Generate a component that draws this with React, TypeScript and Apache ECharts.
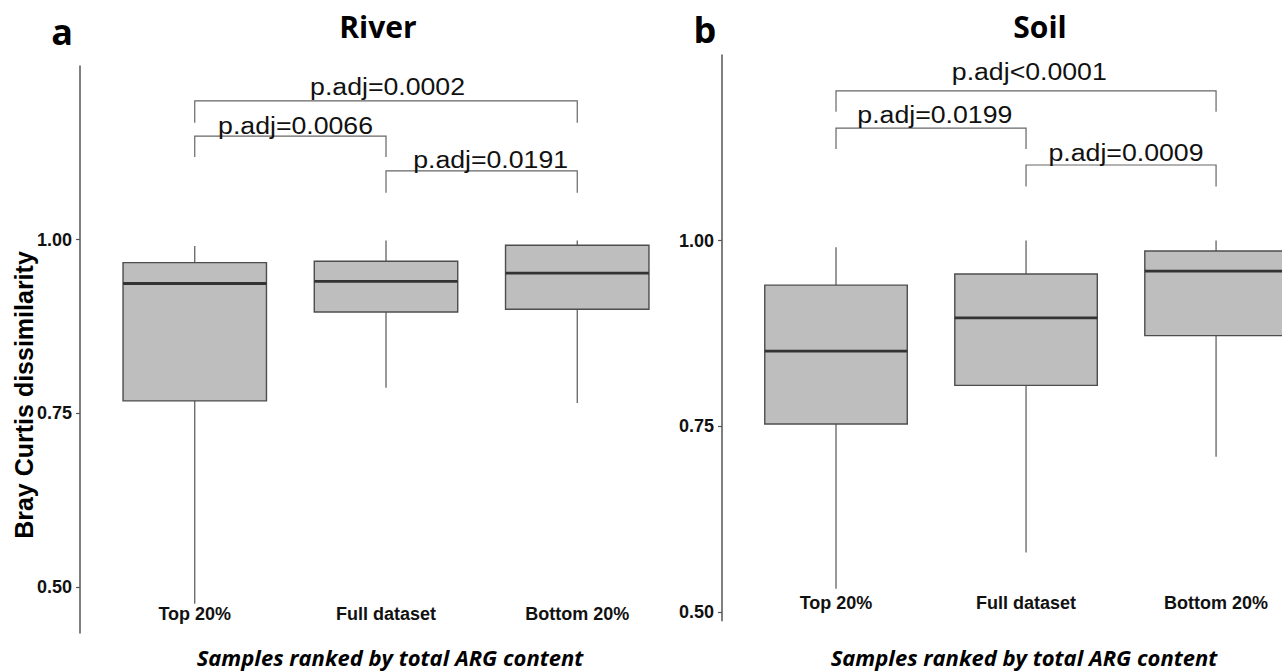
import React, { useEffect, useRef } from "react";
import * as echarts from "echarts";

// ---------- data ----------
const categories = ["Top 20%", "Full dataset", "Bottom 20%"];
const categoryPositions = [1, 2, 3];
const yTickValues = [0.5, 0.75, 1.0];

// River (panel a)
const riverLowerWhisker = [0.476, 0.787, 0.765];
const riverQ1 = [0.768, 0.896, 0.9];
const riverMedian = [0.937, 0.94, 0.952];
const riverQ3 = [0.967, 0.969, 0.992];
const riverUpperWhisker = [0.991, 0.999, 0.999];

// Soil (panel b)
const soilLowerWhisker = [0.531, 0.58, 0.709];
const soilQ1 = [0.753, 0.805, 0.872];
const soilMedian = [0.851, 0.896, 0.959];
const soilQ3 = [0.94, 0.955, 0.986];
const soilUpperWhisker = [0.991, 1.0, 1.0];

// brackets: [fromCategory, toCategory, lineY, tipY, labelX, labelBaselineY]
const riverBrackets = [
  [1, 3, 1.1997, 1.1685, 2.008, 1.2093],
  [1, 2, 1.149, 1.119, 1.527, 1.1527],
  [2, 3, 1.099, 1.0675, 2.547, 1.104],
];
const riverBracketLabels = ["p.adj=0.0002", "p.adj=0.0066", "p.adj=0.0191"];

const soilBrackets = [
  [1, 3, 1.2016, 1.1734, 2.017, 1.2166],
  [1, 2, 1.1516, 1.1234, 1.52, 1.159],
  [2, 3, 1.1018, 1.073, 2.526, 1.1076],
];
const soilBracketLabels = ["p.adj<0.0001", "p.adj=0.0199", "p.adj=0.0009"];

const riverYRange = [0.434, 1.25];
const soilYRange = [0.488, 1.25];
const riverXRange = [0.4, 3.6];
const soilXRange = [0.4, 3.347]; // the soil panel is cut off at the right edge
const BOX_WIDTH = 0.75;

// ---------- helpers ----------
function boxRows(low: number[], q1: number[], med: number[], q3: number[], high: number[]) {
  return categoryPositions.map((x, i) => [x, low[i], q1[i], med[i], q3[i], high[i]]);
}

function renderBox(params: any, api: any) {
  const x = api.value(0);
  const low = api.coord([x, api.value(1)]);
  const q1 = api.coord([x, api.value(2)]);
  const med = api.coord([x, api.value(3)]);
  const q3 = api.coord([x, api.value(4)]);
  const high = api.coord([x, api.value(5)]);
  const w = api.size([BOX_WIDTH, 0])[0];
  const cx = low[0];
  const left = cx - w / 2;
  return {
    type: "group",
    children: [
      {
        type: "line",
        shape: { x1: cx, y1: high[1], x2: cx, y2: q3[1] },
        style: { stroke: "#555555", lineWidth: 1.2 },
      },
      {
        type: "line",
        shape: { x1: cx, y1: q1[1], x2: cx, y2: low[1] },
        style: { stroke: "#555555", lineWidth: 1.2 },
      },
      {
        type: "rect",
        shape: { x: left, y: q3[1], width: w, height: q1[1] - q3[1] },
        style: { fill: "#bebebe", stroke: "#4d4d4d", lineWidth: 1.4 },
      },
      {
        type: "line",
        shape: { x1: left, y1: med[1], x2: left + w, y2: med[1] },
        style: { stroke: "#333333", lineWidth: 2.8 },
      },
    ],
  };
}

function makeBracketRender(labels: string[]) {
  return (params: any, api: any) => {
    const x1 = api.value(0);
    const x2 = api.value(1);
    const yl = api.value(2);
    const yt = api.value(3);
    const lx = api.value(4);
    const ly = api.value(5);
    const t1 = api.coord([x1, yt]);
    const p1 = api.coord([x1, yl]);
    const p2 = api.coord([x2, yl]);
    const t2 = api.coord([x2, yt]);
    const pl = api.coord([lx, ly]);
    return {
      type: "group",
      children: [
        {
          type: "polyline",
          shape: { points: [t1, p1, p2, t2] },
          style: { stroke: "#666666", lineWidth: 1.2, fill: "none" },
        },
        {
          type: "text",
          x: pl[0],
          y: pl[1] - 8,
          scaleX: 1.16,
          style: {
            text: labels[params.dataIndex],
            fontSize: 23,
            fontFamily: "Liberation Sans",
            fill: "#111111",
            align: "center",
            verticalAlign: "middle",
          },
        },
      ],
    };
  };
}

function xAxisFor(gridIndex: number, range: number[], margin: number) {
  return {
    type: "value",
    gridIndex,
    min: range[0],
    max: range[1],
    axisLine: { show: false },
    axisTick: { show: false },
    splitLine: { show: false },
    axisLabel: {
      customValues: categoryPositions,
      formatter: (v: number) => categories[Math.round(v) - 1] ?? "",
      margin,
      fontSize: 18,
      fontWeight: "bold",
      fontFamily: "Liberation Sans",
      color: "#111111",
    },
  };
}

function yAxisFor(gridIndex: number, range: number[]) {
  return {
    type: "value",
    gridIndex,
    min: range[0],
    max: range[1],
    axisLine: { show: true, lineStyle: { color: "#555555", width: 1.5 } },
    axisTick: {
      show: true,
      length: 4,
      customValues: yTickValues,
      lineStyle: { color: "#555555", width: 1.2 },
    },
    splitLine: { show: false },
    axisLabel: {
      customValues: yTickValues,
      formatter: (v: number) => v.toFixed(2),
      margin: 8,
      fontSize: 18,
      fontWeight: "bold",
      fontFamily: "Liberation Sans",
      color: "#111111",
    },
  };
}

function textEl(text: string, x: number, y: number, font: any, extra: any = {}) {
  return {
    type: "text",
    x,
    y,
    ...extra,
    style: {
      text,
      fill: "#000000",
      align: "center",
      verticalAlign: "middle",
      textAlign: "center",
      textVerticalAlign: "middle",
      ...font,
    },
  };
}

const titleFont = { fontFamily: "Open Sans", fontWeight: "bold", fontSize: 30 };
const letterFont = { fontFamily: "Open Sans", fontWeight: "bold", fontSize: 36 };
const xTitleFont = { fontFamily: "Open Sans", fontWeight: "bold", fontStyle: "italic", fontSize: 22 };

const option: any = {
  animation: false,
  backgroundColor: "#ffffff",
  grid: [
    { left: 80, right: 590, top: 66, bottom: 39 },
    { left: 722, right: 0, top: 55, bottom: 51.3 },
  ],
  xAxis: [xAxisFor(0, riverXRange, -28), xAxisFor(1, soilXRange, -27)],
  yAxis: [yAxisFor(0, riverYRange), yAxisFor(1, soilYRange)],
  series: [
    {
      type: "custom",
      xAxisIndex: 0,
      yAxisIndex: 0,
      clip: false,
      renderItem: renderBox,
      encode: { x: 0, y: [1, 2, 3, 4, 5] },
      data: boxRows(riverLowerWhisker, riverQ1, riverMedian, riverQ3, riverUpperWhisker),
    },
    {
      type: "custom",
      xAxisIndex: 1,
      yAxisIndex: 1,
      clip: false,
      renderItem: renderBox,
      encode: { x: 0, y: [1, 2, 3, 4, 5] },
      data: boxRows(soilLowerWhisker, soilQ1, soilMedian, soilQ3, soilUpperWhisker),
    },
    {
      type: "custom",
      xAxisIndex: 0,
      yAxisIndex: 0,
      clip: false,
      renderItem: makeBracketRender(riverBracketLabels),
      encode: { x: [0, 1, 4], y: [2, 3, 5] },
      data: riverBrackets,
    },
    {
      type: "custom",
      xAxisIndex: 1,
      yAxisIndex: 1,
      clip: false,
      renderItem: makeBracketRender(soilBracketLabels),
      encode: { x: [0, 1, 4], y: [2, 3, 5] },
      data: soilBrackets,
    },
  ],
  graphic: [
    textEl("a", 62, 31, letterFont),
    textEl("River", 378, 26, titleFont),
    textEl("b", 705, 29, letterFont),
    textEl("Soil", 1040, 26, titleFont),
    textEl("Samples ranked by total ARG content", 390, 656.5, xTitleFont),
    textEl("Samples ranked by total ARG content", 1024, 656.5, xTitleFont),
    textEl(
      "Bray Curtis dissimilarity",
      24,
      395,
      { fontFamily: "Liberation Sans", fontWeight: "bold", fontSize: 25 },
      { rotation: Math.PI / 2 }
    ),
  ],
};

export default function App() {
  const ref = useRef<HTMLDivElement>(null);
  useEffect(() => {
    if (!ref.current) return;
    const chart = echarts.init(ref.current, null, { renderer: "svg" });
    chart.setOption(option);
    return () => chart.dispose();
  }, []);
  return (
    <div
      ref={ref}
      style={{ position: "fixed", left: 0, top: 0, width: 1282, height: 672, background: "#ffffff" }}
    />
  );
}
